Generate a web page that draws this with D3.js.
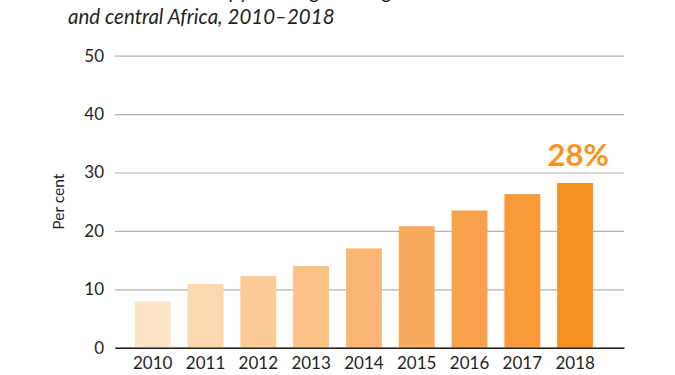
<!DOCTYPE html>
<html lang="en">
<head>
<meta charset="UTF-8">
<title>Coverage 2010-2018</title>
<style>
  body { margin: 0; background: #fff; }
  .title { font-family: Lato, "Open Sans", sans-serif; font-style: italic; font-size: 20.5px; fill: #231f20; }
  .tick text { font-family: Lato, "Open Sans", sans-serif; font-size: 17px; fill: #231f20; }
  .ylab { font-family: Lato, "Open Sans", sans-serif; font-size: 15.5px; fill: #231f20; }
  .callout { font-family: Lato, "Open Sans", sans-serif; font-weight: bold; font-size: 31px; fill: #f7931e; }
</style>
</head>
<body>
<svg id="chart" width="675" height="375"></svg>
<script src="https://d3js.org/d3.v7.min.js"></script>
<script>
// data
var years = ["2010", "2011", "2012", "2013", "2014", "2015", "2016", "2017", "2018"];
var values = [7.9, 10.9, 12.3, 14.0, 17.0, 20.8, 23.5, 26.3, 28.2];
var barColors = ["#fde3c5", "#fdd7ae", "#fccc98", "#fcc185", "#fbb674", "#f9aa5f", "#f8a24c", "#f79a37", "#f6921f"];
var yTicks = [0, 10, 20, 30, 40, 50];

var svg = d3.select("#chart");
var plotLeft = 115, plotRight = 624, plotTop = 55.7, plotBottom = 347.7;

var x = d3.scaleBand()
    .domain(years)
    .range([plotLeft, plotRight])
    .paddingInner(0.32)
    .paddingOuter(0.48)
    .align(0.39);

var y = d3.scaleLinear()
    .domain([0, 50])
    .range([plotBottom, plotTop]);

// title (first line is cut off at the top of the picture)
svg.append("text").attr("class", "title")
    .attr("x", 68).attr("y", -2)
    .text("Antiretroviral therapy coverage among children in western");
svg.append("text").attr("class", "title")
    .attr("x", 68).attr("y", 23.5)
    .text("and central Africa, 2010\u20132018");

// gridlines + y labels
var yAxis = svg.append("g")
    .attr("transform", "translate(" + plotLeft + ",0)")
    .call(d3.axisLeft(y).tickValues(yTicks).tickSize(-(plotRight - plotLeft)).tickPadding(11));
yAxis.select(".domain").remove();
yAxis.selectAll(".tick line").attr("stroke", "#b3b3b3").attr("stroke-width", 1.2);

svg.append("text").attr("class", "ylab")
    .attr("transform", "translate(64," + y(25) + ") rotate(-90)")
    .attr("text-anchor", "middle")
    .text("Per cent");

// bars
svg.selectAll("rect.bar")
    .data(values)
    .enter().append("rect")
    .attr("class", "bar")
    .attr("x", function(d, i) { return x(years[i]); })
    .attr("width", x.bandwidth())
    .attr("y", function(d) { return y(d); })
    .attr("height", function(d) { return y(0) - y(d); })
    .attr("fill", function(d, i) { return barColors[i]; });

// baseline + x labels
var xAxis = svg.append("g")
    .attr("transform", "translate(0," + plotBottom + ")")
    .call(d3.axisBottom(x).tickSize(0).tickPadding(9));
xAxis.select(".domain").attr("stroke", "#231f20").attr("stroke-width", 1.6);

// callout on last bar
var last = years.length - 1;
svg.append("text").attr("class", "callout")
    .attr("x", x(years[last]) + x.bandwidth() / 2 + 3)
    .attr("y", 166)
    .attr("text-anchor", "middle")
    .text("28%");
</script>
</body>
</html>
